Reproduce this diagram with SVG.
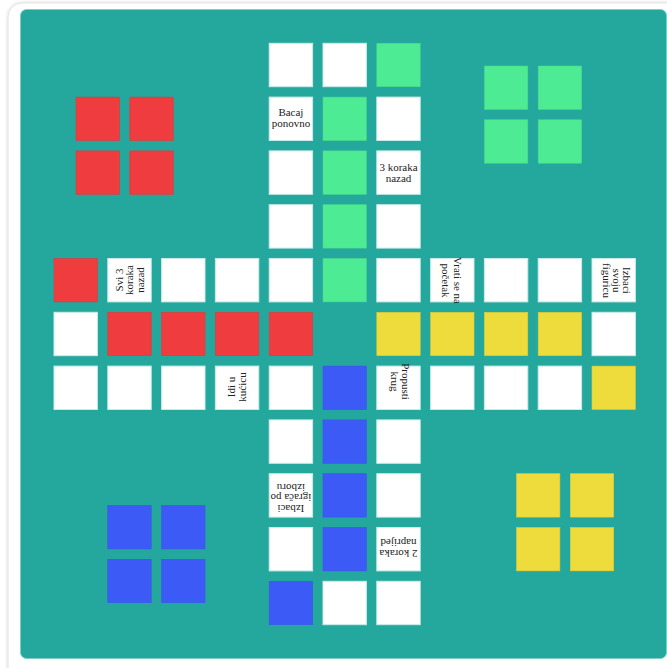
<svg xmlns="http://www.w3.org/2000/svg" width="667" height="668" viewBox="0 0 667 668">
<style>
.w{fill:#ffffff;stroke:#c9ebe7;stroke-width:1}
.r{fill:#ef3c3e;stroke:#e0393b;stroke-width:0.6}
.g{fill:#4eeb95;stroke:#4ad98c;stroke-width:0.6}
.b{fill:#3c5bf6;stroke:#3a57e8;stroke-width:0.6}
.y{fill:#eddc3b;stroke:#dccc37;stroke-width:0.6}
text{font-family:"Liberation Serif","DejaVu Serif",serif;font-size:11px;fill:#222;text-anchor:middle}
</style>
<defs>
<filter id="sh" x="-5%" y="-5%" width="110%" height="110%">
<feGaussianBlur in="SourceAlpha" stdDeviation="1.5"/>
<feOffset dx="0" dy="0" result="b"/>
<feFlood flood-color="#000" flood-opacity="0.18"/>
<feComposite in2="b" operator="in"/>
<feMerge><feMergeNode/><feMergeNode in="SourceGraphic"/></feMerge>
</filter>
</defs>
<rect x="0" y="0" width="667" height="668" fill="#ffffff"/>
<rect id="card" x="8" y="3" width="680" height="680" rx="14" fill="#ffffff" stroke="#e3e3e3" stroke-width="1" filter="url(#sh)"/>
<rect id="board" x="20.5" y="9.5" width="646" height="649" rx="6" fill="#24a79d" stroke="#7fcfc8" stroke-width="1"/>

<g id="homes">
<g id="home-red"><rect class="r" x="76" y="97.1" width="43.4" height="43.4"/><rect class="r" x="129.8" y="97.1" width="43.4" height="43.4"/><rect class="r" x="76" y="150.9" width="43.4" height="43.4"/><rect class="r" x="129.8" y="150.9" width="43.4" height="43.4"/></g>
<g id="home-green"><rect class="g" x="484.4" y="66" width="43.4" height="43.4"/><rect class="g" x="538.2" y="66" width="43.4" height="43.4"/><rect class="g" x="484.4" y="119.8" width="43.4" height="43.4"/><rect class="g" x="538.2" y="119.8" width="43.4" height="43.4"/></g>
<g id="home-blue"><rect class="b" x="107.8" y="505.5" width="43.4" height="43.4"/><rect class="b" x="161.6" y="505.5" width="43.4" height="43.4"/><rect class="b" x="107.8" y="559.3" width="43.4" height="43.4"/><rect class="b" x="161.6" y="559.3" width="43.4" height="43.4"/></g>
<g id="home-yellow"><rect class="y" x="516.5" y="473.7" width="43.4" height="43.4"/><rect class="y" x="570.3" y="473.7" width="43.4" height="43.4"/><rect class="y" x="516.5" y="527.5" width="43.4" height="43.4"/><rect class="y" x="570.3" y="527.5" width="43.4" height="43.4"/></g>
</g>

<g id="cells">
<g id="c-0-4"><rect class="w" x="269.2" y="43.3" width="43.4" height="43.4"/></g>
<g id="c-0-5"><rect class="w" x="323" y="43.3" width="43.4" height="43.4"/></g>
<g id="c-0-6"><rect class="g" x="376.8" y="43.3" width="43.4" height="43.4"/></g>
<g id="c-1-4"><rect class="w" x="269.2" y="97.1" width="43.4" height="43.4"/><g transform="translate(290.9,118.8)"><text y="-3">Bacaj</text><text y="8">ponovno</text></g></g>
<g id="c-1-5"><rect class="g" x="323" y="97.1" width="43.4" height="43.4"/></g>
<g id="c-1-6"><rect class="w" x="376.8" y="97.1" width="43.4" height="43.4"/></g>
<g id="c-2-4"><rect class="w" x="269.2" y="150.9" width="43.4" height="43.4"/></g>
<g id="c-2-5"><rect class="g" x="323" y="150.9" width="43.4" height="43.4"/></g>
<g id="c-2-6"><rect class="w" x="376.8" y="150.9" width="43.4" height="43.4"/><g transform="translate(398.5,172.6)"><text y="-1.2">3 koraka</text><text y="9.8">nazad</text></g></g>
<g id="c-3-4"><rect class="w" x="269.2" y="204.7" width="43.4" height="43.4"/></g>
<g id="c-3-5"><rect class="g" x="323" y="204.7" width="43.4" height="43.4"/></g>
<g id="c-3-6"><rect class="w" x="376.8" y="204.7" width="43.4" height="43.4"/></g>
<g id="c-4-0"><rect class="r" x="54" y="258.5" width="43.4" height="43.4"/></g>
<g id="c-4-1"><rect class="w" x="107.8" y="258.5" width="43.4" height="43.4"/><g transform="translate(129.5,280) rotate(-90)"><text y="-7">Svi 3</text><text y="3.8">koraka</text><text y="14.4">nazad</text></g></g>
<g id="c-4-2"><rect class="w" x="161.6" y="258.5" width="43.4" height="43.4"/></g>
<g id="c-4-3"><rect class="w" x="215.4" y="258.5" width="43.4" height="43.4"/></g>
<g id="c-4-4"><rect class="w" x="269.2" y="258.5" width="43.4" height="43.4"/></g>
<g id="c-4-5"><rect class="g" x="323" y="258.5" width="43.4" height="43.4"/></g>
<g id="c-4-6"><rect class="w" x="376.8" y="258.5" width="43.4" height="43.4"/></g>
<g id="c-4-7"><rect class="w" x="430.6" y="258.5" width="43.4" height="43.4"/><g transform="translate(452.3,280.5) rotate(90)"><text y="-2.2">Vrati se na</text><text y="9.8">početak</text></g></g>
<g id="c-4-8"><rect class="w" x="484.4" y="258.5" width="43.4" height="43.4"/></g>
<g id="c-4-9"><rect class="w" x="538.2" y="258.5" width="43.4" height="43.4"/></g>
<g id="c-4-10"><rect class="w" x="592" y="258.5" width="43.4" height="43.4"/><g transform="translate(613.7,280.5) rotate(90)"><text y="-9.8">Izbaci</text><text y="0.4">svoju</text><text y="10.6">figuricu</text></g></g>
<g id="c-5-0"><rect class="w" x="54" y="312.3" width="43.4" height="43.4"/></g>
<g id="c-5-1"><rect class="r" x="107.8" y="312.3" width="43.4" height="43.4"/></g>
<g id="c-5-2"><rect class="r" x="161.6" y="312.3" width="43.4" height="43.4"/></g>
<g id="c-5-3"><rect class="r" x="215.4" y="312.3" width="43.4" height="43.4"/></g>
<g id="c-5-4"><rect class="r" x="269.2" y="312.3" width="43.4" height="43.4"/></g>
<g id="c-5-6"><rect class="y" x="376.8" y="312.3" width="43.4" height="43.4"/></g>
<g id="c-5-7"><rect class="y" x="430.6" y="312.3" width="43.4" height="43.4"/></g>
<g id="c-5-8"><rect class="y" x="484.4" y="312.3" width="43.4" height="43.4"/></g>
<g id="c-5-9"><rect class="y" x="538.2" y="312.3" width="43.4" height="43.4"/></g>
<g id="c-5-10"><rect class="w" x="592" y="312.3" width="43.4" height="43.4"/></g>
<g id="c-6-0"><rect class="w" x="54" y="366.1" width="43.4" height="43.4"/></g>
<g id="c-6-1"><rect class="w" x="107.8" y="366.1" width="43.4" height="43.4"/></g>
<g id="c-6-2"><rect class="w" x="161.6" y="366.1" width="43.4" height="43.4"/></g>
<g id="c-6-3"><rect class="w" x="215.4" y="366.1" width="43.4" height="43.4"/><g transform="translate(237.1,387) rotate(-90)"><text y="-2.6">Idi u</text><text y="8.4">kućicu</text></g></g>
<g id="c-6-4"><rect class="w" x="269.2" y="366.1" width="43.4" height="43.4"/></g>
<g id="c-6-5"><rect class="b" x="323" y="366.1" width="43.4" height="43.4"/></g>
<g id="c-6-6"><rect class="w" x="376.8" y="366.1" width="43.4" height="43.4"/><g transform="translate(398.5,381.5) rotate(90)"><text y="-3">Propusti</text><text y="8">krug</text></g></g>
<g id="c-6-7"><rect class="w" x="430.6" y="366.1" width="43.4" height="43.4"/></g>
<g id="c-6-8"><rect class="w" x="484.4" y="366.1" width="43.4" height="43.4"/></g>
<g id="c-6-9"><rect class="w" x="538.2" y="366.1" width="43.4" height="43.4"/></g>
<g id="c-6-10"><rect class="y" x="592" y="366.1" width="43.4" height="43.4"/></g>
<g id="c-7-4"><rect class="w" x="269.2" y="419.9" width="43.4" height="43.4"/></g>
<g id="c-7-5"><rect class="b" x="323" y="419.9" width="43.4" height="43.4"/></g>
<g id="c-7-6"><rect class="w" x="376.8" y="419.9" width="43.4" height="43.4"/></g>
<g id="c-8-4"><rect class="w" x="269.2" y="473.7" width="43.4" height="43.4"/><g transform="translate(290.9,495.4) rotate(180)"><text y="-9.5">Izbaci</text><text y="1.2">igrača po</text><text y="11.9">izboru</text></g></g>
<g id="c-8-5"><rect class="b" x="323" y="473.7" width="43.4" height="43.4"/></g>
<g id="c-8-6"><rect class="w" x="376.8" y="473.7" width="43.4" height="43.4"/></g>
<g id="c-9-4"><rect class="w" x="269.2" y="527.5" width="43.4" height="43.4"/></g>
<g id="c-9-5"><rect class="b" x="323" y="527.5" width="43.4" height="43.4"/></g>
<g id="c-9-6"><rect class="w" x="376.8" y="527.5" width="43.4" height="43.4"/><g transform="translate(398.5,549.2) rotate(180)"><text y="-1.2">2 koraka</text><text y="9.8">naprijed</text></g></g>
<g id="c-10-4"><rect class="b" x="269.2" y="581.3" width="43.4" height="43.4"/></g>
<g id="c-10-5"><rect class="w" x="323" y="581.3" width="43.4" height="43.4"/></g>
<g id="c-10-6"><rect class="w" x="376.8" y="581.3" width="43.4" height="43.4"/></g>
</g>
<g id="connectors"/>
</svg>
